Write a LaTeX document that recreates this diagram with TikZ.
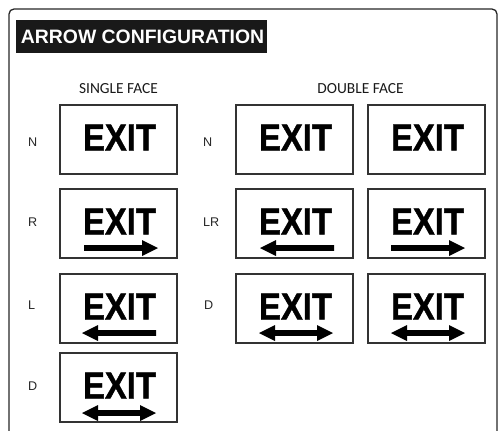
\documentclass[tikz,border=0pt]{standalone}
\usepackage{graphicx}
\usepackage{fontspec}
\setmainfont{Liberation Sans}
\newfontfamily\hdrfont{Carlito}
\newfontfamily\exitfont{Liberation Sans Bold}[FakeBold=1.3]
\tikzset{
  frameline/.style={draw=black!85, line width=1.3pt, rounded corners=5pt},
  signbox/.style={draw=black!80, line width=1.2pt, minimum width=117pt, minimum height=69pt, inner sep=0pt},
  exittxt/.style={anchor=base, inner sep=0pt, font=\exitfont\fontsize{37.7}{40}\selectfont},
  lbl/.style={anchor=base west, inner sep=0pt, font=\fontsize{12.6}{14}\selectfont, text=black!85},
  hdr/.style={anchor=base, inner sep=0pt, font=\hdrfont\fontsize{15.4}{18}\selectfont, text=black!90},
  titlebox/.style={fill=black!90, minimum width=251pt, minimum height=33pt, inner sep=0pt},
  titletxt/.style={text=white, inner sep=0pt, font=\fontsize{19.4}{22}\selectfont\bfseries},
  arrR/.pic={\fill (-37,-2.8) -- (21,-2.8) -- (21,-8) -- (37,0) -- (21,8) -- (21,2.8) -- (-37,2.8) -- cycle;},
  arrL/.pic={\fill (37,-2.8) -- (-21,-2.8) -- (-21,-8) -- (-37,0) -- (-21,8) -- (-21,2.8) -- (37,2.8) -- cycle;},
  arrD/.pic={\fill (-37,0) -- (-21,-8) -- (-21,-2.8) -- (21,-2.8) -- (21,-8) -- (37,0) -- (21,8) -- (21,2.8) -- (-21,2.8) -- (-21,8) -- cycle;}
}
\newcommand\exitsign[3]{%
  \node[signbox] (#1) at (#2,#3+34.5) {};
  \node[exittxt] (#1t) at (#2+1,#3+45.5) {\scalebox{0.87}[1]{EXIT}};
}
\begin{document}
\begin{tikzpicture}[x=1pt,y=-1pt]
\useasboundingbox (0,0) rectangle (504,431);
\clip (0,0) rectangle (504,431);
\draw[frameline] (9,440) -- (9,9) -- (497,9) -- (497,440);
\node[titlebox] (title) at (141.5,36.5) {};
\node[titletxt] (titlet) at (142.5,36.5) {ARROW CONFIGURATION};
\node[hdr] (single) at (118.5,93) {SINGLE FACE};
\node[hdr] (double) at (360.5,93) {DOUBLE FACE};
% single face
\exitsign{s1}{118.5}{105}
\exitsign{s2}{118.5}{189}
\exitsign{s3}{118.5}{274}
\exitsign{s4}{118.5}{353}
\pic at (121,248) {arrR};
\pic at (119,333) {arrL};
\pic at (119,413) {arrD};
% double face
\exitsign{dl1}{294.5}{105}
\exitsign{dr1}{426.5}{105}
\exitsign{dl2}{294.5}{189}
\exitsign{dr2}{426.5}{189}
\exitsign{dl3}{294.5}{274}
\exitsign{dr3}{426.5}{274}
\pic at (297,248) {arrL};
\pic at (428,248) {arrR};
\pic at (296,333) {arrD};
\pic at (428,333) {arrD};
% labels
\node[lbl] (ln1) at (28,146) {N};
\node[lbl] (lr1) at (28,226) {R};
\node[lbl] (ll1) at (28,309) {L};
\node[lbl] (ld1) at (28,390) {D};
\node[lbl] (ln2) at (203,146) {N};
\node[lbl] (llr2) at (203,226) {LR};
\node[lbl] (ld2) at (204,309) {D};
\end{tikzpicture}
\end{document}
